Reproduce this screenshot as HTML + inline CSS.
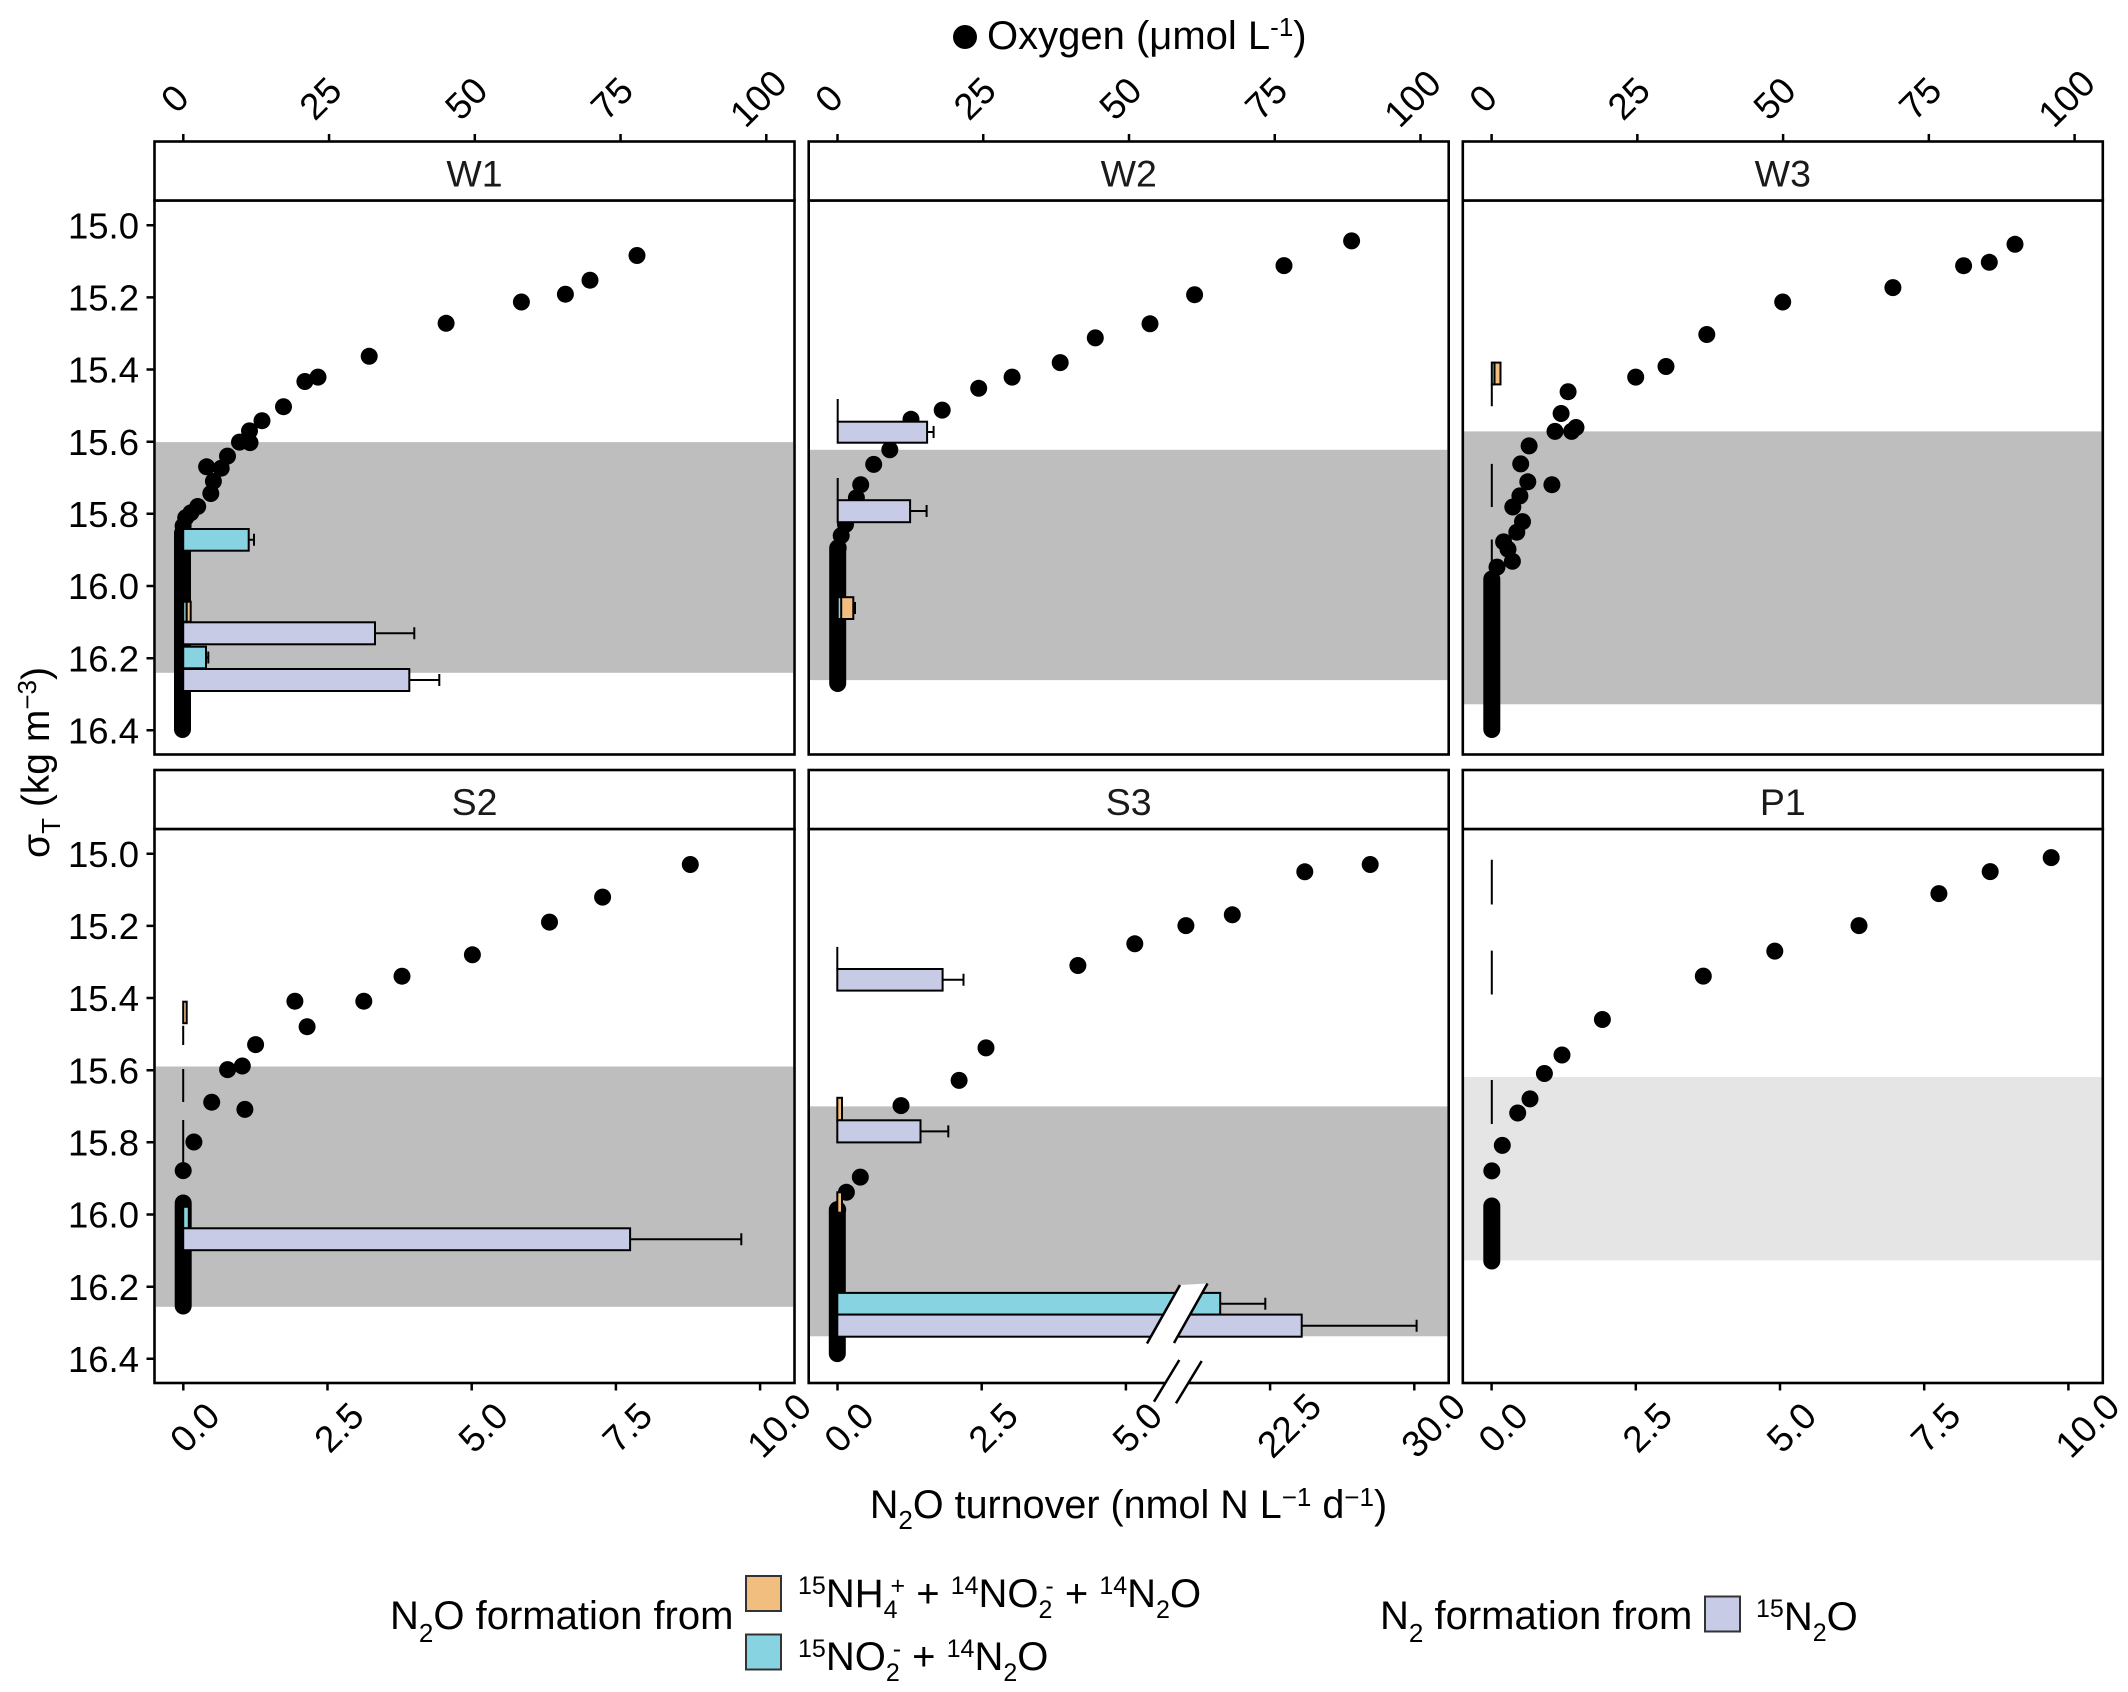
<!DOCTYPE html>
<html><head><meta charset="utf-8"><style>
html,body{margin:0;padding:0;background:#fff}
svg{display:block}
text{font-family:"Liberation Sans",Arial,sans-serif;fill:#000}
</style></head><body>
<svg width="2128" height="1692" viewBox="0 0 2128 1692" xmlns="http://www.w3.org/2000/svg">
<rect width="2128" height="1692" fill="#fff"/>

<!-- Top title -->
<circle cx="965" cy="37" r="12" fill="#000"/>
<text x="987" y="49" font-size="40">Oxygen (μmol L<tspan font-size="26" dy="-13">-1</tspan><tspan dy="13">)</tspan></text>

<!-- ===== Bands ===== -->
<rect x="156" y="442.1" width="637" height="230.7" fill="#bebebe"/>
<rect x="810" y="449.8" width="637.4" height="230.3" fill="#bebebe"/>
<rect x="1464" y="431.4" width="637.5" height="272.9" fill="#bebebe"/>
<rect x="156" y="1066.5" width="637" height="240.3" fill="#bebebe"/>
<rect x="810" y="1106.4" width="637.4" height="229.9" fill="#bebebe"/>
<rect x="1464" y="1077" width="637.5" height="183.4" fill="#e5e5e5"/>

<!-- ===== Dots ===== -->
<g fill="#000">
<!-- W1 -->
<circle cx="637" cy="255.5" r="8.5"/><circle cx="590" cy="280.2" r="8.5"/><circle cx="565.4" cy="294.2" r="8.5"/><circle cx="521.4" cy="302" r="8.5"/><circle cx="446.1" cy="323.3" r="8.5"/><circle cx="369.2" cy="356.3" r="8.5"/><circle cx="318" cy="377.1" r="8.5"/><circle cx="304.9" cy="381.5" r="8.5"/><circle cx="283.5" cy="406.7" r="8.5"/><circle cx="262" cy="420.7" r="8.5"/><circle cx="249.5" cy="430.9" r="8.5"/><circle cx="239.5" cy="442.1" r="8.5"/><circle cx="250" cy="442.6" r="8.5"/><circle cx="227.5" cy="456.1" r="8.5"/><circle cx="221.2" cy="468.2" r="8.5"/><circle cx="206.6" cy="466.8" r="8.5"/><circle cx="213.4" cy="481.3" r="8.5"/><circle cx="210.8" cy="493.5" r="8.5"/><circle cx="197.7" cy="506.5" r="8.5"/><circle cx="190.9" cy="512.8" r="8.5"/><circle cx="185.7" cy="517.7" r="8.5"/><circle cx="183.1" cy="526" r="8.5"/>
<rect x="174" y="524.5" width="17" height="213.5" rx="8.5"/>
<!-- W2 -->
<circle cx="1351.6" cy="240.9" r="8.5"/><circle cx="1284" cy="265.6" r="8.5"/><circle cx="1194.6" cy="294.7" r="8.5"/><circle cx="1150" cy="323.8" r="8.5"/><circle cx="1095.3" cy="337.9" r="8.5"/><circle cx="1060.2" cy="362.6" r="8.5"/><circle cx="1012.1" cy="377.1" r="8.5"/><circle cx="978.7" cy="388.3" r="8.5"/><circle cx="942.2" cy="410.1" r="8.5"/><circle cx="911" cy="419.3" r="8.5"/><circle cx="889.8" cy="449.8" r="8.5"/><circle cx="873.7" cy="464.4" r="8.5"/><circle cx="860.7" cy="484.7" r="8.5"/><circle cx="856.4" cy="497.8" r="8.5"/><circle cx="845.5" cy="524.5" r="8.5"/><circle cx="841.2" cy="535.6" r="8.5"/><circle cx="838.2" cy="547.7" r="8.5"/>
<rect x="829.2" y="539.5" width="17" height="152.5" rx="8.5"/>
<!-- W3 -->
<circle cx="2015" cy="244.3" r="8.5"/><circle cx="1989.3" cy="262.3" r="8.5"/><circle cx="1963.6" cy="265.7" r="8.5"/><circle cx="1892.9" cy="287.6" r="8.5"/><circle cx="1782.7" cy="302" r="8.5"/><circle cx="1706.8" cy="334.5" r="8.5"/><circle cx="1666" cy="366.5" r="8.5"/><circle cx="1635.7" cy="377.1" r="8.5"/><circle cx="1568.1" cy="391.7" r="8.5"/><circle cx="1561.1" cy="413.5" r="8.5"/><circle cx="1555" cy="431.4" r="8.5"/><circle cx="1571.6" cy="431.4" r="8.5"/><circle cx="1576" cy="427.5" r="8.5"/><circle cx="1529.1" cy="445.9" r="8.5"/><circle cx="1520.7" cy="463.9" r="8.5"/><circle cx="1527.8" cy="481.8" r="8.5"/><circle cx="1551.9" cy="484.7" r="8.5"/><circle cx="1519.9" cy="495.9" r="8.5"/><circle cx="1512.8" cy="507" r="8.5"/><circle cx="1522.5" cy="521.6" r="8.5"/><circle cx="1516.8" cy="532.2" r="8.5"/><circle cx="1503.6" cy="541.9" r="8.5"/><circle cx="1508" cy="549.2" r="8.5"/><circle cx="1512.4" cy="561.3" r="8.5"/><circle cx="1497" cy="567.1" r="8.5"/>
<rect x="1483.3" y="570.5" width="17" height="167.5" rx="8.5"/>
<!-- S2 -->
<circle cx="690.3" cy="864.5" r="8.5"/><circle cx="602.6" cy="897.1" r="8.5"/><circle cx="549.5" cy="922.1" r="8.5"/><circle cx="472.4" cy="954.8" r="8.5"/><circle cx="402" cy="976.2" r="8.5"/><circle cx="294.9" cy="1001.2" r="8.5"/><circle cx="363.8" cy="1001.2" r="8.5"/><circle cx="307.1" cy="1026.7" r="8.5"/><circle cx="255.6" cy="1044.6" r="8.5"/><circle cx="227.6" cy="1069.6" r="8.5"/><circle cx="242.3" cy="1066" r="8.5"/><circle cx="211.7" cy="1102.2" r="8.5"/><circle cx="244.9" cy="1109.4" r="8.5"/><circle cx="193.9" cy="1142" r="8.5"/><circle cx="183.2" cy="1170.6" r="8.5"/>
<rect x="174.7" y="1194.5" width="17" height="120" rx="8.5"/>
<!-- S3 -->
<circle cx="1370.2" cy="864.5" r="8.5"/><circle cx="1304.8" cy="871.8" r="8.5"/><circle cx="1232.3" cy="914.8" r="8.5"/><circle cx="1185.9" cy="925.6" r="8.5"/><circle cx="1134.8" cy="943.8" r="8.5"/><circle cx="1077.9" cy="965.5" r="8.5"/><circle cx="986" cy="1047.9" r="8.5"/><circle cx="959.1" cy="1080.4" r="8.5"/><circle cx="901" cy="1105.6" r="8.5"/><circle cx="860.3" cy="1177.1" r="8.5"/><circle cx="846.4" cy="1192.3" r="8.5"/><circle cx="837.7" cy="1209.6" r="8.5"/>
<rect x="828.8" y="1201.1" width="17" height="161" rx="8.5"/>
<!-- P1 -->
<circle cx="2051.2" cy="857.6" r="8.5"/><circle cx="1990.2" cy="871.6" r="8.5"/><circle cx="1938.9" cy="893.6" r="8.5"/><circle cx="1859" cy="925.6" r="8.5"/><circle cx="1774.8" cy="951.1" r="8.5"/><circle cx="1703.3" cy="976.1" r="8.5"/><circle cx="1602.4" cy="1019.5" r="8.5"/><circle cx="1562" cy="1055" r="8.5"/><circle cx="1544.4" cy="1073.5" r="8.5"/><circle cx="1530" cy="1098.9" r="8.5"/><circle cx="1517.7" cy="1113" r="8.5"/><circle cx="1502.3" cy="1145.4" r="8.5"/><circle cx="1491.8" cy="1170.9" r="8.5"/>
<rect x="1483.3" y="1197.5" width="17" height="72" rx="8.5"/>
</g>

<!-- ===== Bars ===== -->
<g stroke="#000" stroke-width="2">
<!-- W1 -->
<rect x="183.2" y="529" width="65.5" height="21.7" fill="#88d3e1"/>
<path d="M248.7 539.8H254M254 533.8V545.8" fill="none"/>
<rect x="183.2" y="601.7" width="3.5" height="20" fill="#88d3e1"/>
<rect x="186.7" y="601.7" width="4" height="20" fill="#f2be80"/>
<rect x="183.2" y="622.3" width="191.8" height="22" fill="#c8cbe6"/>
<path d="M375 633.3H414.3M414.3 627.3V639.3" fill="none"/>
<rect x="183.2" y="646.7" width="22.8" height="21.6" fill="#88d3e1"/>
<path d="M206 657.5H208.3M208.3 651.5V663.5" fill="none"/>
<rect x="183.2" y="669" width="226.1" height="22" fill="#c8cbe6"/>
<path d="M409.3 680H439.3M439.3 674V686" fill="none"/>
<!-- W2 -->
<path d="M837.7 399V422M837.7 478V500" fill="none"/>
<rect x="837.7" y="421.7" width="89.4" height="21" fill="#c8cbe6"/>
<path d="M927.1 432H933.6M933.6 426V438" fill="none"/>
<rect x="837.7" y="500.2" width="72.4" height="22" fill="#c8cbe6"/>
<path d="M910.1 511H926.6M926.6 505V517" fill="none"/>
<rect x="837.7" y="597.2" width="15.6" height="21.8" fill="#f2be80"/>
<rect x="837.7" y="597.2" width="3.5" height="21.8" fill="#88d3e1"/>
<path d="M853.3 608H855M855 602V614" fill="none"/>
<!-- W3 -->
<rect x="1491.8" y="362.6" width="2.7" height="21.8" fill="#88d3e1"/>
<rect x="1494.5" y="362.6" width="6" height="21.8" fill="#f2be80"/>
<path d="M1491.8 384.4V406.2M1491.8 463.9V507M1491.8 539.5V562" fill="none"/>
<!-- S2 -->
<rect x="183.2" y="1001.7" width="3.5" height="21.5" fill="#f2be80"/>
<path d="M183.2 1025.7V1045M183.2 1069V1102M183.2 1120V1168.6" fill="none"/>
<rect x="183.2" y="1206.8" width="5.6" height="21.5" fill="#88d3e1"/>
<rect x="183.2" y="1228.3" width="446.9" height="21.9" fill="#c8cbe6"/>
<path d="M630.1 1239.2H741.3M741.3 1233.2V1245.2" fill="none"/>
<!-- S3 -->
<path d="M837.3 946.9V969" fill="none"/>
<rect x="837.3" y="969" width="105.3" height="21.6" fill="#c8cbe6"/>
<path d="M942.6 979.8H963.5M963.5 973.8V985.8" fill="none"/>
<rect x="837.3" y="1097.8" width="4.7" height="22.5" fill="#f2be80"/>
<rect x="837.3" y="1120.3" width="83.2" height="22.1" fill="#c8cbe6"/>
<path d="M920.5 1131.4H948.3M948.3 1125.4V1137.4" fill="none"/>
<rect x="837.3" y="1192.3" width="4.7" height="20.4" fill="#f2be80"/>
<rect x="837.3" y="1292.9" width="382.9" height="21.7" fill="#88d3e1"/>
<path d="M1220.2 1303.8H1265.3M1265.3 1297.8V1309.8" fill="none"/>
<rect x="837.3" y="1314.6" width="464.4" height="22.1" fill="#c8cbe6"/>
<path d="M1301.7 1325.7H1416.6M1416.6 1319.7V1331.7" fill="none"/>
<!-- P1 -->
<path d="M1491.8 859.8V904.5M1491.8 950.6V994.5M1491.8 1080V1124" fill="none"/>
</g>

<!-- S3 upper break -->
<polygon points="1147,1343.5 1180,1285 1207.5,1283.5 1174,1343" fill="#fff"/>
<path d="M1147 1343.5L1180 1285M1174 1343L1207.5 1283.5" stroke="#000" stroke-width="2.5" fill="none"/>

<!-- ===== Panel borders ===== -->
<g fill="none" stroke="#000" stroke-width="2.6">
<rect x="154.5" y="200.5" width="640" height="554"/>
<rect x="808.7" y="200.5" width="640" height="554"/>
<rect x="1462.8" y="200.5" width="640" height="554"/>
<rect x="154.5" y="829" width="640" height="554"/>
<rect x="808.7" y="829" width="640" height="554"/>
<rect x="1462.8" y="829" width="640" height="554"/>
</g>
<!-- Strips -->
<g fill="#fff" stroke="#000" stroke-width="2.6">
<rect x="154.5" y="141.5" width="640" height="59"/>
<rect x="808.7" y="141.5" width="640" height="59"/>
<rect x="1462.8" y="141.5" width="640" height="59"/>
<rect x="154.5" y="770" width="640" height="59"/>
<rect x="808.7" y="770" width="640" height="59"/>
<rect x="1462.8" y="770" width="640" height="59"/>
</g>
<g font-size="37.5" text-anchor="middle">
<text x="474.5" y="186.3" style="fill:#1a1a1a">W1</text>
<text x="1128.7" y="186.3" style="fill:#1a1a1a">W2</text>
<text x="1782.8" y="186.3" style="fill:#1a1a1a">W3</text>
<text x="474.5" y="814.8" style="fill:#1a1a1a">S2</text>
<text x="1128.7" y="814.8" style="fill:#1a1a1a">S3</text>
<text x="1782.8" y="814.8" style="fill:#1a1a1a">P1</text>
</g>

<!-- S3 lower break -->
<polygon points="1154,1401.7 1179.3,1360 1201.7,1361 1176,1403.3" fill="#fff"/>
<path d="M1154 1401.7L1179.3 1360M1176 1403.3L1201.7 1361" stroke="#000" stroke-width="2.5" fill="none"/>

<!-- ===== Ticks ===== -->
<g stroke="#000" stroke-width="2.5" fill="none">
<path d="M183.3 134V141.5M329.05 134V141.5M474.8 134V141.5M620.55 134V141.5M766.3 134V141.5"/>
<path d="M837.5 134V141.5M983.25 134V141.5M1129 134V141.5M1274.75 134V141.5M1420.5 134V141.5"/>
<path d="M1491.6 134V141.5M1637.35 134V141.5M1783.1 134V141.5M1928.85 134V141.5M2074.6 134V141.5"/>
<path d="M183.3 1383V1390.5M327.5 1383V1390.5M471.7 1383V1390.5M615.9 1383V1390.5M760.1 1383V1390.5"/>
<path d="M837.5 1383V1390.5M981.7 1383V1390.5M1125.9 1383V1390.5M1270.1 1383V1390.5M1414.3 1383V1390.5"/>
<path d="M1491.6 1383V1390.5M1635.8 1383V1390.5M1780 1383V1390.5M1924.2 1383V1390.5M2068.4 1383V1390.5"/>
<path d="M146.5 225.2H154.5M146.5 297.4H154.5M146.5 369.5H154.5M146.5 441.7H154.5M146.5 513.8H154.5M146.5 586H154.5M146.5 658.2H154.5M146.5 730.3H154.5"/>
<path d="M146.5 853.7H154.5M146.5 925.9H154.5M146.5 998H154.5M146.5 1070.2H154.5M146.5 1142.3H154.5M146.5 1214.5H154.5M146.5 1286.7H154.5M146.5 1358.8H154.5"/>
</g>

<!-- Left labels -->
<g font-size="36.5" text-anchor="end">
<text x="139" y="238.3">15.0</text><text x="139" y="310.5">15.2</text><text x="139" y="382.6">15.4</text><text x="139" y="454.8">15.6</text><text x="139" y="526.9">15.8</text><text x="139" y="599.1">16.0</text><text x="139" y="671.3">16.2</text><text x="139" y="743.4">16.4</text>
<text x="139" y="866.8">15.0</text><text x="139" y="939">15.2</text><text x="139" y="1011.1">15.4</text><text x="139" y="1083.3">15.6</text><text x="139" y="1155.4">15.8</text><text x="139" y="1227.6">16.0</text><text x="139" y="1299.8">16.2</text><text x="139" y="1371.9">16.4</text>
</g>

<!-- Top labels -->
<g font-size="37" text-anchor="middle">
<text transform="translate(174.3,98) rotate(-45)" dy="0.36em">0</text>
<text transform="translate(320,98) rotate(-45)" dy="0.36em">25</text>
<text transform="translate(465.8,98) rotate(-45)" dy="0.36em">50</text>
<text transform="translate(611.5,98) rotate(-45)" dy="0.36em">75</text>
<text transform="translate(757.8,98) rotate(-45)" dy="0.36em">100</text>
<text transform="translate(828.5,98) rotate(-45)" dy="0.36em">0</text>
<text transform="translate(974.2,98) rotate(-45)" dy="0.36em">25</text>
<text transform="translate(1120,98) rotate(-45)" dy="0.36em">50</text>
<text transform="translate(1265.7,98) rotate(-45)" dy="0.36em">75</text>
<text transform="translate(1412,98) rotate(-45)" dy="0.36em">100</text>
<text transform="translate(1482.6,98) rotate(-45)" dy="0.36em">0</text>
<text transform="translate(1628.3,98) rotate(-45)" dy="0.36em">25</text>
<text transform="translate(1774.1,98) rotate(-45)" dy="0.36em">50</text>
<text transform="translate(1919.8,98) rotate(-45)" dy="0.36em">75</text>
<text transform="translate(2066.1,98) rotate(-45)" dy="0.36em">100</text>
</g>

<!-- Bottom labels -->
<g font-size="37" text-anchor="middle">
<text transform="translate(194.3,1427) rotate(-45)" dy="0.36em">0.0</text>
<text transform="translate(338.5,1427) rotate(-45)" dy="0.36em">2.5</text>
<text transform="translate(482.7,1427) rotate(-45)" dy="0.36em">5.0</text>
<text transform="translate(626.9,1427) rotate(-45)" dy="0.36em">7.5</text>
<text transform="translate(778.6,1425) rotate(-45)" dy="0.36em">10.0</text>
<text transform="translate(848.5,1427) rotate(-45)" dy="0.36em">0.0</text>
<text transform="translate(992.7,1427) rotate(-45)" dy="0.36em">2.5</text>
<text transform="translate(1136.9,1427) rotate(-45)" dy="0.36em">5.0</text>
<text transform="translate(1288.6,1425) rotate(-45)" dy="0.36em">22.5</text>
<text transform="translate(1432.8,1425) rotate(-45)" dy="0.36em">30.0</text>
<text transform="translate(1502.6,1427) rotate(-45)" dy="0.36em">0.0</text>
<text transform="translate(1646.8,1427) rotate(-45)" dy="0.36em">2.5</text>
<text transform="translate(1791,1427) rotate(-45)" dy="0.36em">5.0</text>
<text transform="translate(1935.2,1427) rotate(-45)" dy="0.36em">7.5</text>
<text transform="translate(2086.9,1425) rotate(-45)" dy="0.36em">10.0</text>
</g>

<!-- Axis titles -->
<text x="1128.5" y="1518" font-size="39.5" text-anchor="middle">N<tspan font-size="26" dy="11">2</tspan><tspan dy="-11">O turnover (nmol N L</tspan><tspan font-size="26" dy="-12">−1</tspan><tspan dy="12">&#160;d</tspan><tspan font-size="26" dy="-12">−1</tspan><tspan dy="12">)</tspan></text>

<text transform="translate(49,762.5) rotate(-90)" font-size="39" text-anchor="middle">σ<tspan font-size="26" dy="11">T</tspan><tspan dy="-11">&#160;(kg m</tspan><tspan font-size="26" dy="-13">−3</tspan><tspan dy="13">)</tspan></text>

<!-- ===== Legend ===== -->
<text x="390" y="1629" font-size="40">N<tspan font-size="26" dy="13">2</tspan><tspan dy="-13">O formation from</tspan></text>
<rect x="746" y="1576" width="35" height="35" fill="#f2be80" stroke="#333" stroke-width="2"/>
<rect x="746" y="1634.5" width="35" height="35" fill="#88d3e1" stroke="#333" stroke-width="2"/>
<text x="798" y="1607" font-size="40"><tspan font-size="25" dy="-13">15</tspan><tspan dy="13">NH</tspan><tspan font-size="25" dy="11">4</tspan><tspan font-size="25" dx="-7" dy="-24">+</tspan><tspan dy="13">&#160;+&#160;</tspan><tspan font-size="25" dy="-13">14</tspan><tspan dy="13">NO</tspan><tspan font-size="25" dy="11">2</tspan><tspan font-size="25" dx="-7" dy="-24">-</tspan><tspan dy="13">&#160;+&#160;</tspan><tspan font-size="25" dy="-13">14</tspan><tspan dy="13">N</tspan><tspan font-size="25" dy="11">2</tspan><tspan dy="-11">O</tspan></text>
<text x="798" y="1670" font-size="40"><tspan font-size="25" dy="-13">15</tspan><tspan dy="13">NO</tspan><tspan font-size="25" dy="11">2</tspan><tspan font-size="25" dx="-7" dy="-24">-</tspan><tspan dy="13">&#160;+&#160;</tspan><tspan font-size="25" dy="-13">14</tspan><tspan dy="13">N</tspan><tspan font-size="25" dy="11">2</tspan><tspan dy="-11">O</tspan></text>

<text x="1380" y="1629" font-size="40">N<tspan font-size="26" dy="13">2</tspan><tspan dy="-13">&#160;formation from</tspan></text>
<rect x="1705" y="1596.5" width="35" height="35" fill="#c8cbe6" stroke="#333" stroke-width="2"/>
<text x="1756" y="1630" font-size="40"><tspan font-size="25" dy="-13">15</tspan><tspan dy="13">N</tspan><tspan font-size="25" dy="11">2</tspan><tspan dy="-11">O</tspan></text>

</svg>
</body></html>
